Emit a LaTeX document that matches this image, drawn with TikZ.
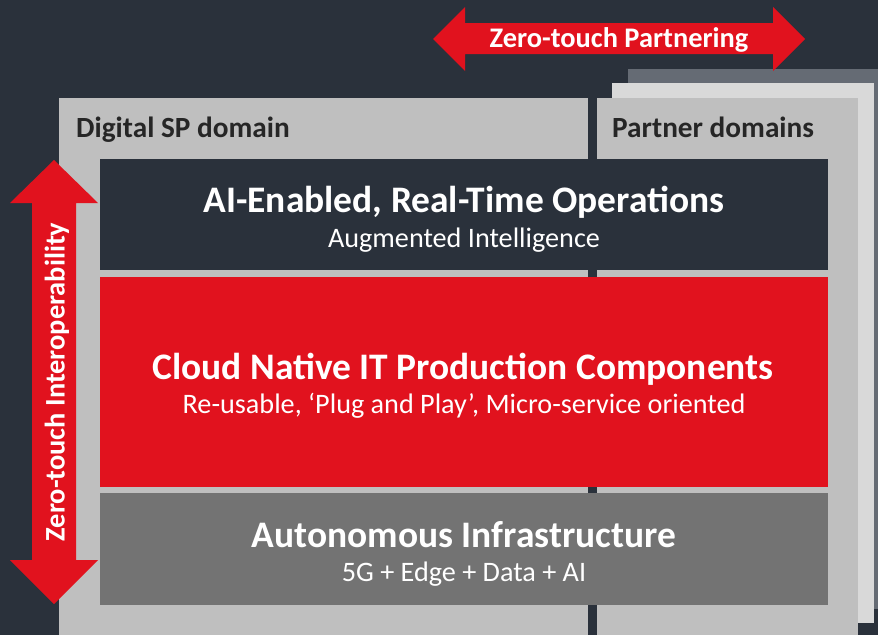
\documentclass[tikz,border=0pt]{standalone}
\usepackage{fontspec}
\setmainfont{Carlito}
\definecolor{bgdark}{HTML}{2A313B}
\definecolor{zred}{HTML}{E1121E}
\definecolor{panelgray}{HTML}{BFBFBF}
\definecolor{panellight}{HTML}{D9D9D9}
\definecolor{panelback}{HTML}{656B74}
\definecolor{infragray}{HTML}{737373}
\definecolor{headtext}{HTML}{262626}
\tikzset{
  layertitle/.style={text=white,font=\bfseries\fontsize{37.6}{42}\selectfont},
  layersub/.style={text=white,font=\fontsize{28.3}{32}\selectfont},
  domainlabel/.style={text=headtext,font=\bfseries\fontsize{29.4}{34}\selectfont,anchor=base west,inner sep=0pt},
  arrowlabel/.style={text=white,font=\bfseries\fontsize{28.5}{33}\selectfont},
}
\begin{document}
\begin{tikzpicture}[line join=bevel,]
%%
\fill [bgdark] (0bp,0bp) rectangle (878bp,-635bp);
% partner stack
\fill [panelback] (628bp,-69bp) rectangle (878bp,-609bp);
\fill [panellight] (612bp,-83bp) rectangle (874bp,-623bp);
\fill [panelgray] (597bp,-98bp) rectangle (858bp,-635bp);
% own domain
\fill [panelgray] (59bp,-98bp) rectangle (588bp,-635bp);
% layers
\fill [bgdark] (100bp,-159bp) rectangle (828bp,-270bp);
\fill [zred] (100bp,-277bp) rectangle (828bp,-487bp);
\fill [infragray] (100bp,-493bp) rectangle (828bp,-605bp);
% arrows
\fill [zred] (433bp,-39bp) -- (465bp,-7bp) -- (465bp,-23bp) -- (773bp,-23bp) -- (773bp,-7bp)
  -- (805bp,-39bp) -- (773bp,-71bp) -- (773bp,-54bp) -- (465bp,-54bp) -- (465bp,-71bp) -- cycle;
\fill [zred] (54bp,-160bp) -- (98bp,-203bp) -- (76bp,-203bp) -- (76bp,-560bp) -- (98bp,-560bp)
  -- (54bp,-604bp) -- (10bp,-560bp) -- (32bp,-560bp) -- (32bp,-203bp) -- (10bp,-203bp) -- cycle;
%
\node (node_0) at (76bp,-137bp) [domainlabel] {Digital SP domain};
\node (node_1) at (612bp,-137bp) [domainlabel] {Partner domains};
\node (node_2) at (464bp,-202bp) [layertitle] {AI-Enabled, Real-Time Operations};
\node (node_3) at (464bp,-240bp) [layersub] {Augmented Intelligence};
\node (node_4) at (463bp,-369bp) [layertitle] {Cloud Native IT Production Components};
\node (node_5) at (464bp,-406bp) [layersub] {Re-usable, ‘Plug and Play’, Micro-service oriented};
\node (node_6) at (464bp,-535bp) [layertitle] {Autonomous Infrastructure};
\node (node_7) at (464bp,-574bp) [layersub] {5G + Edge + Data + AI};
\node (node_8) at (619bp,-40bp) [arrowlabel] {Zero-touch Partnering};
\node (node_9) at (57bp,-382bp) [arrowlabel,rotate=90] {Zero-touch Interoperability};
%
\end{tikzpicture}
\end{document}
